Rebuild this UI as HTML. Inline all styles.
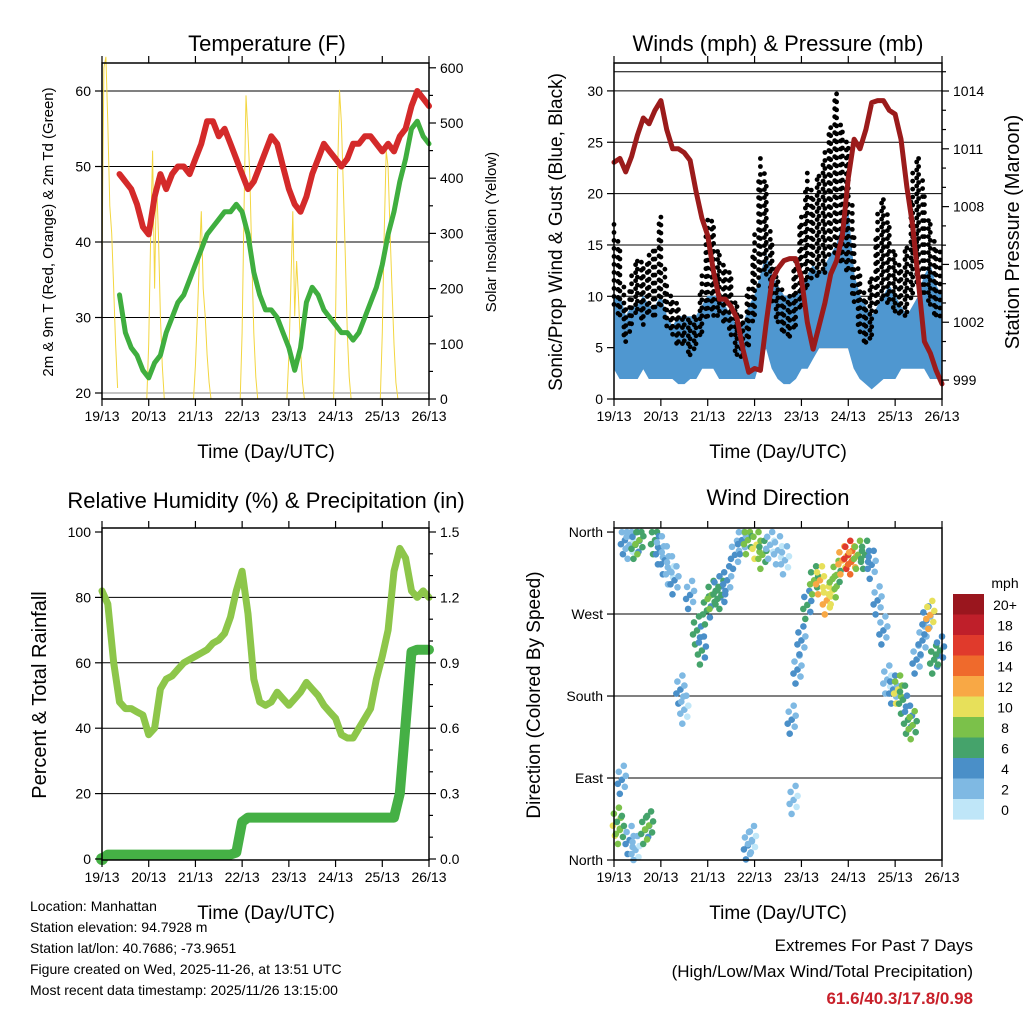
<!DOCTYPE html>
<html><head><meta charset="utf-8"><style>
html,body{margin:0;padding:0;background:#fff;}
svg{display:block;font-family:"Liberation Sans",sans-serif;}
</style></head><body>
<svg id="chart" xmlns="http://www.w3.org/2000/svg" width="1024" height="1024" viewBox="0 0 1024 1024">
<rect width="1024" height="1024" fill="#fff"/>
<g id="p1"></g>
<g id="p2"></g>
<g id="p3"></g>
<g id="p4"></g>
<text x="267" y="51" font-size="22" text-anchor="middle">Temperature (F)</text>
<text x="778" y="51" font-size="22" text-anchor="middle">Winds (mph) &amp; Pressure (mb)</text>
<text x="266" y="508" font-size="22" text-anchor="middle">Relative Humidity (%) &amp; Precipitation (in)</text>
<text x="778" y="505" font-size="22" text-anchor="middle">Wind Direction</text>
<text x="266" y="458" font-size="19" text-anchor="middle">Time (Day/UTC)</text>
<text x="778" y="458" font-size="19" text-anchor="middle">Time (Day/UTC)</text>
<text x="266" y="919" font-size="19" text-anchor="middle">Time (Day/UTC)</text>
<text x="778" y="919" font-size="19" text-anchor="middle">Time (Day/UTC)</text>
<text transform="translate(53,232) rotate(-90)" font-size="15" text-anchor="middle">2m &amp; 9m T (Red, Orange) &amp; 2m Td (Green)</text>
<text transform="translate(496,232) rotate(-90)" font-size="15" text-anchor="middle">Solar Insolation (Yellow)</text>
<text transform="translate(562,232) rotate(-90)" font-size="19" text-anchor="middle">Sonic/Prop Wind &amp; Gust (Blue, Black)</text>
<text transform="translate(1019,232) rotate(-90)" font-size="20" text-anchor="middle">Station Pressure (Maroon)</text>
<text transform="translate(46,695) rotate(-90)" font-size="20" text-anchor="middle">Percent &amp; Total Rainfall</text>
<text transform="translate(540,695) rotate(-90)" font-size="19" text-anchor="middle">Direction (Colored By Speed)</text>
<g font-size="14">
<text x="30" y="911">Location: Manhattan</text>
<text x="30" y="932">Station elevation: 94.7928 m</text>
<text x="30" y="953">Station lat/lon: 40.7686; -73.9651</text>
<text x="30" y="974">Figure created on Wed, 2025-11-26, at 13:51 UTC</text>
<text x="30" y="995">Most recent data timestamp: 2025/11/26 13:15:00</text>
</g>
<g font-size="17" text-anchor="end">
<text x="973" y="951">Extremes For Past 7 Days</text>
<text x="973" y="977">(High/Low/Max Wind/Total Precipitation)</text>
<text x="973" y="1004" fill="#c8202a" font-weight="bold">61.6/40.3/17.8/0.98</text>
</g>
<text x="1005" y="588" font-size="14" text-anchor="middle">mph</text>
<g id="legend"></g>
</svg>
<script>
// ---- data (3-hourly samples from 19/13 UTC) ----
const stepHours = 3;
const dayLabels = ["19/13","20/13","21/13","22/13","23/13","24/13","25/13","26/13"];
const tempValues = [null,null,null,49,48,47,45,42,41,46,49,47,49,50,50,49,51,53,56,56,54,55,53,51,49,47,48,50,52,54,53,50,47,45,44,46,49,51,53,52,51,50,51,53,53,54,54,53,52,53,52,54,55,58,60,59,58];
const dewValues = [null,null,null,33,28,26,25,23,22,24,25,28,30,32,33,35,37,39,41,42,43,44,44,45,44,41,36,33,31,31,30,28,26,23,26,32,34,33,31,30,29,28,28,27,28,30,32,34,37,41,44,48,51,55,56,54,53];
const solarDays = [
 [0,250,600,620,500,350,300,200,100,20],
 [0,100,300,450,200,400,300,150,60,0],
 [0,60,150,250,340,200,150,80,30,0],
 [0,120,350,550,480,400,250,120,40,0],
 [0,80,200,340,150,250,180,90,30,0],
 [0,150,400,560,500,380,260,120,40,0],
 [0,120,300,450,420,300,200,100,30,0]];
const pressureValues = [1010.3,1010.5,1009.8,1010.6,1011.7,1012.6,1012.3,1013.0,1013.5,1012.0,1011.0,1011.0,1010.8,1010.4,1008.8,1007.4,1006.5,1004.6,1003.2,1003.2,1002.8,1002.2,1000.6,999.4,999.6,999.5,1002,1004.2,1004.8,1005.2,1005.3,1005.3,1004.3,1002.0,1000.6,1001.8,1003.0,1004.5,1005.2,1006.5,1009.5,1011.5,1011.0,1012.0,1013.4,1013.5,1013.5,1013.0,1012.8,1011.5,1009.0,1007.0,1004.0,1001.0,1000.4,999.5,998.8];
const windHigh = [10,10,8,9,9,10,9,9,10,8,7,8,8,8,8,9,10,10,10,9,8,7,7,9,10,12,14,12,11,10,10,10,11,12,13,12,13,14,15,17,18,12,10,9,8,9,10,11,10,9,8,9,10,12,13,11,10];
const windLow = [3,2,2,2,2,3,2,2,2,2,2,1.5,1.5,2,2,3,3,3,2,2,2,2,2,2,2,4,5,3,2,1.5,1.5,2,3,3,4,5,5,5,5,5,5,3,2,1.5,1,1.5,2,2,2,3,3,3,3,3,2,2,2];
const gustHigh = [17,15,9,12,14,13,14,15,18,11,10,9,8,8,8,12,18,17,14,13,12,9,8,11,16,24,21,15,12,10,10,14,18,22,20,22,24,27,30,26,25,16,12,10,12,18,20,17,14,13,15,22,24,20,17,15,14];
const gustLow = [9,8,5,7,8,7,8,8,9,7,6,5,5,4,5,6,8,8,8,7,6,4,4,5,8,12,12,9,7,6,6,7,9,11,12,12,12,14,14,13,12,9,6,5,6,9,10,9,8,8,8,10,11,10,9,8,8];
const rhValues = [82,78,60,48,46,46,45,44,38,40,52,55,56,58,60,61,62,63,64,66,67,69,74,82,88,75,55,48,47,48,51,49,47,49,51,54,52,50,47,45,43,38,37,37,40,43,46,55,62,70,88,95,92,82,80,82,80];
const precipValues = [0,0.02,0.02,0.02,0.02,0.02,0.02,0.02,0.02,0.02,0.02,0.02,0.02,0.02,0.02,0.02,0.02,0.02,0.02,0.02,0.02,0.02,0.02,0.03,0.17,0.19,0.19,0.19,0.19,0.19,0.19,0.19,0.19,0.19,0.19,0.19,0.19,0.19,0.19,0.19,0.19,0.19,0.19,0.19,0.19,0.19,0.19,0.19,0.19,0.19,0.19,0.30,0.62,0.95,0.96,0.96,0.96];
const dirHours = [1.5,3,4,5.6,8,8,11,11,13,16,18,21,23.5,26,28.7,31,34,36,39,42.5,45,47.6,50,53,55,58,62,65.5,68.6,68.6,70.7,73,76,80,84,87.6,91,92,94,96,99,102.5,105.5,109,112,114,117,120,122,125,128.6,132,135,138,140,143,145.5,148,150.6,153,155,158,160,162,164,167];
const dirDegrees = [42,33,88,351,346,22,346,11,351,33,38,351,340,329,318,307,187,165,291,252,230,274,291,296,291,307,335,351,351,16,22,346,335,346,340,329,154,66,209,241,280,307,307,285,296,313,329,335,329,335,335,324,285,252,198,187,187,176,154,148,220,241,263,269,220,230];
const dirSpeeds = [10,8,4,4,3,4,6,3,8,7,8,7,4,4,3,4,4,3,4,7,6,7,8,6,7,5,4,4,9,4,3,10,8,3,3,3,4,3,4,5,6,8,12,12,10,9,13,17,14,9,7,5,4,4,3,5,10,7,6,9,4,4,5,12,7,6];
const legendLabels = ["20+","18","16","14","12","10","8","6","4","2","0"];
const legendColors = ["#9a161e","#bf1f2a","#e03a2c","#ef6a2c","#f8a845","#e7e05a","#7bc14a","#45a36b","#4a8fc8","#7fb9e3","#bfe6f8"];

const NS = "http://www.w3.org/2000/svg";
function mk(tag, attrs, parent){const e=document.createElementNS(NS,tag);for(const k in attrs)e.setAttribute(k,attrs[k]);parent.appendChild(e);return e;}
const p1=document.getElementById('p1'),p2=document.getElementById('p2'),p3=document.getElementById('p3'),p4=document.getElementById('p4'),lg=document.getElementById('legend');

const xL=h=>102+h*327/168, xR=h=>614+h*328/168;
const yTemp=v=>91+(60-v)*7.55, ySol=v=>399-v*0.552;
const yWind=v=>399-v*10.27, yPres=p=>91+(1014-p)*19.27;
const yRH=v=>859-v*3.27, yPr=v=>859-v*218, yDir=d=>860-d*0.911;

function frame(g,x0,x1,y0,y1,xs){
  const r=mk('rect',{x:x0,y:y0,width:x1-x0,height:y1-y0,fill:'none',stroke:'#000','stroke-width':1.5},g);
  
  
  dayLabels.forEach((lab,i)=>{
    const x=xs(i*24);
    mk('line',{x1:x,x2:x,y1:y1,y2:y1+7,stroke:'#000','stroke-width':1.2},g);
    mk('line',{x1:x,x2:x,y1:y0,y2:y0-7,stroke:'#000','stroke-width':1.2},g);
    const t=mk('text',{x:x,y:y1+22,'font-size':14,'text-anchor':'middle'},g);
    t.textContent=lab;
    
    
  });
}
function grid(g,x0,x1,y,col){mk('line',{x1:x0,x2:x1,y1:y,y2:y,stroke:col||'#000','stroke-width':1},g);}
function ytick(g,x,y,dir,len,label){
  mk('line',{x1:x,x2:x+dir*len,y1:y,y2:y,stroke:'#000','stroke-width':1.2},g);
  if(label!==undefined){const t=mk('text',{x:x+dir*(len+4),y:y+5,'font-size':14,'text-anchor':dir<0?'end':'start'},g);t.textContent=label;
    
    }
}
function line(g,vals,xs,ys,attrs,name){
  let d='',pen=false;
  vals.forEach((v,i)=>{if(v===null){pen=false;return;}d+=(pen?'L':'M')+xs(i*stepHours).toFixed(1)+','+ys(v).toFixed(1);pen=true;});
  const p=mk('path',Object.assign({d:d,fill:'none','stroke-linejoin':'round','stroke-linecap':'round'},attrs),g);
  
  
  return p;
}

// ---- Panel 1 ----
[20,30,40,50,60].forEach(v=>grid(p1,102,429,yTemp(v),v===20?'#888':'#000'));
solarDays.forEach((vals,d)=>{
  let s='';vals.forEach((v,k)=>{const h=Math.max(0,d*24-1+k);s+=(k?'L':'M')+xL(h).toFixed(1)+','+ySol(v).toFixed(1);});
  const p=mk('path',{d:s,fill:'none',stroke:'#f3d640','stroke-width':1},p1);
  
  
});
line(p1,dewValues,xL,yTemp,{stroke:'#3fae3f','stroke-width':5},'dewpoint-line');
line(p1,tempValues,xL,yTemp,{stroke:'#d42a2a','stroke-width':6},'temperature-line');
frame(p1,102,429,63,399,xL);
[20,30,40,50,60].forEach(v=>ytick(p1,102,yTemp(v),-1,7,v));
for(let v=0;v<=600;v+=50){const y=ySol(v);if(y<63)break;ytick(p1,429,y,1,v%100===0?7:4,v%100===0?v:undefined);}

// ---- Panel 2 ----
[0,5,10,15,20,25,30].forEach(v=>grid(p2,614,942,yWind(v)));
grid(p2,614,942,yPres(1015));
let band='';windHigh.forEach((v,i)=>{band+=(i?'L':'M')+xR(i*stepHours).toFixed(1)+','+yWind(v).toFixed(1);});
for(let i=windLow.length-1;i>=0;i--)band+='L'+xR(i*stepHours).toFixed(1)+','+yWind(windLow[i]).toFixed(1);
const bp=mk('path',{d:band+'Z',fill:'#4f97d0',stroke:'#4f97d0','stroke-width':1},p2);


const gustG=mk('g',{fill:'#000'},p2);


let col=0;
for(let i=0;i<gustHigh.length-1;i++){
  const xa=xR(i*stepHours),xb=xR((i+1)*stepHours);
  for(let x=xa;x<xb;x+=4){
    const f=(x-xa)/(xb-xa);
    const hi=yWind(gustHigh[i]+(gustHigh[i+1]-gustHigh[i])*f), lo=yWind(gustLow[i]+(gustLow[i+1]-gustLow[i])*f);
    for(let y=hi+(col%3)*3;y<=lo;y+=8)mk('circle',{cx:x.toFixed(1),cy:y.toFixed(1),r:2.4},gustG);
    col++;
  }
}
line(p2,pressureValues,xR,yPres,{stroke:'#9b1b1b','stroke-width':5},'pressure-line');
frame(p2,614,942,63,399,xR);
[0,5,10,15,20,25,30].forEach(v=>ytick(p2,614,yWind(v),-1,7,v));
for(let p=998;p<=1015;p++){const y=yPres(p);if(y<63||y>399)continue;const major=(p-999)%3===0;ytick(p2,942,y,1,major?7:4,major?p:undefined);}

// ---- Panel 3 ----
[20,40,60,80].forEach(v=>grid(p3,102,429,yRH(v)));
line(p3,rhValues,xL,yRH,{stroke:'#8dc64a','stroke-width':7},'humidity-line');
line(p3,precipValues,xL,yPr,{stroke:'#45b045','stroke-width':10},'precipitation-line');
const pd=mk('circle',{cx:xL(0),cy:yPr(precipValues[0]),r:6,fill:'#45b045'},p3);


frame(p3,102,429,528,860,xL);
[0,20,40,60,80,100].forEach(v=>ytick(p3,102,yRH(v),-1,7,v));
for(let k=0;k<=15;k++){const v=k/10;const major=k%3===0;ytick(p3,429,yPr(v),1,major?7:4,major?v.toFixed(1):undefined);}

// ---- Panel 4 ----
[90,180,270].forEach(d=>grid(p4,614,942,yDir(d)));
function speedColor(s){const idx=Math.min(10,Math.floor(s/2));return legendColors[10-idx];}
const offs=[[0,0],[-3,-8],[3,7],[-2,14],[2,-14],[4,-4],[-4,4]];
dirHours.forEach((h,i)=>{
  offs.forEach((o,k)=>{
    const s=Math.max(0,dirSpeeds[i]-(k%3));
    const c=mk('circle',{cx:(xR(h)+o[0]).toFixed(1),cy:Math.min(860,Math.max(532,yDir(dirDegrees[i])+o[1])).toFixed(1),r:3.3,fill:speedColor(s)},p4);
    
    
  });
});
frame(p4,614,942,528,860,xR);
[["North",0],["East",90],["South",180],["West",270],["North",360]].forEach(a=>ytick(p4,614,yDir(a[1]),-1,7,a[0]));

legendColors.forEach((c,i)=>{
  const r=mk('rect',{x:953,y:594+i*20.5,width:31,height:20.6,fill:c},lg);
  
  
  const t=mk('text',{x:1005,y:594+i*20.5+16,'font-size':14,'text-anchor':'middle'},lg);
  t.textContent=legendLabels[i];
  
  
});
</script>
</body></html>
